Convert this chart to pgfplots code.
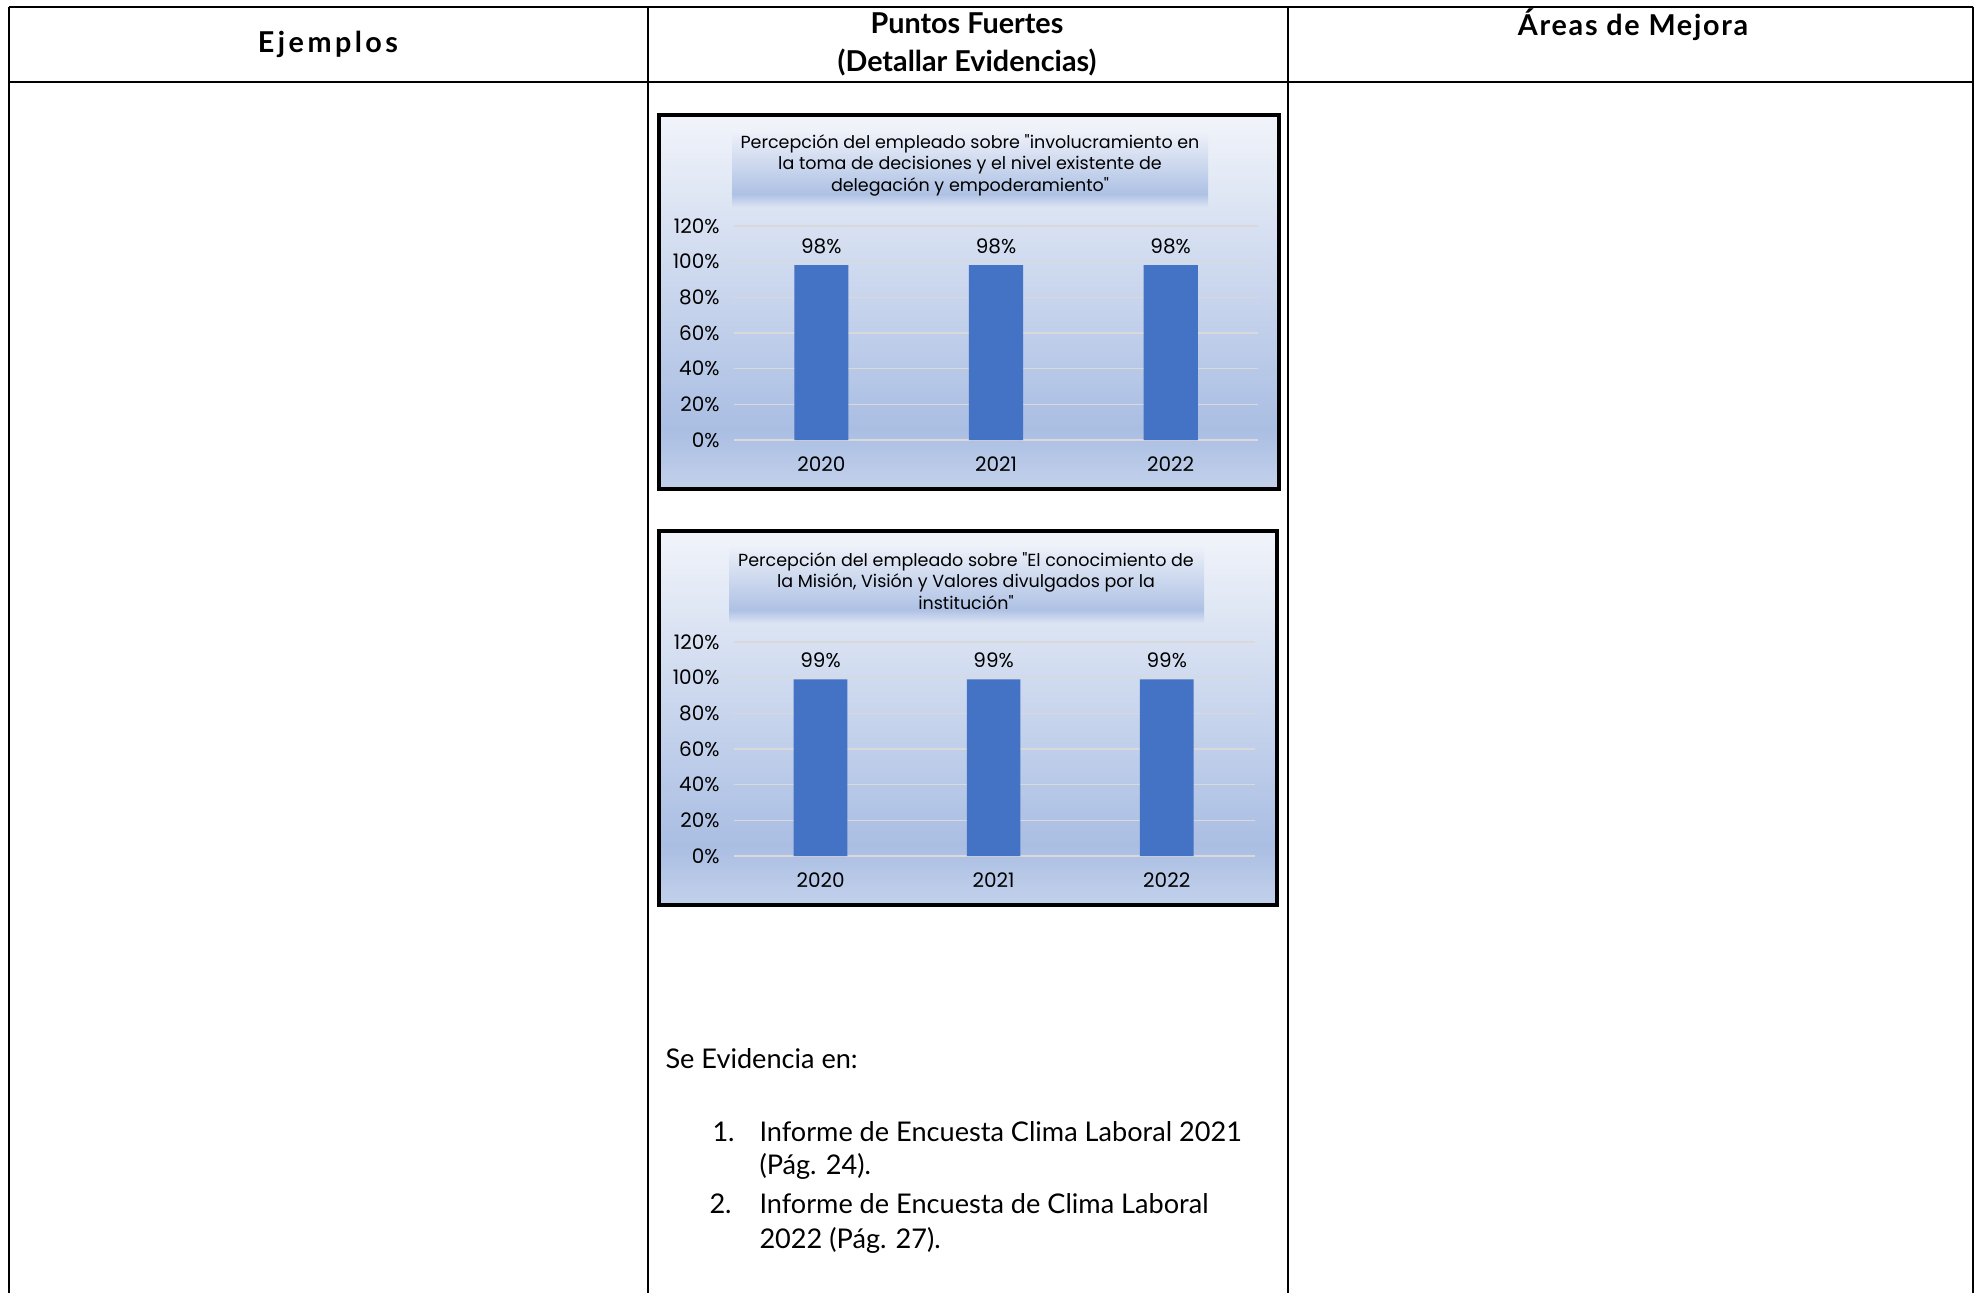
\documentclass[border=0pt]{standalone}
\usepackage{pgfplots}
\pgfplotsset{compat=1.18}
\usepackage{fontspec}
\setmainfont{Lato}
\newfontfamily\chartfont{Poppins}

\definecolor{barblue}{HTML}{4472C4}
\definecolor{gridgray}{HTML}{D9D9D9}
\definecolor{bgtop}{HTML}{F1F4FA}
\definecolor{bgmid}{HTML}{AABEE3}
\definecolor{bgbot}{HTML}{C3D1EB}
\definecolor{ttop}{HTML}{EDF1F9}
\definecolor{tmid}{HTML}{AEC1E4}
\definecolor{tbot}{HTML}{D8E1F2}

% 25bp = bottom of the path, 75bp = top
\pgfdeclareverticalshading{chartbg}{100bp}{color(0bp)=(bgbot); color(25bp)=(bgbot); color(33bp)=(bgmid); color(75bp)=(bgtop); color(100bp)=(bgtop)}
\pgfdeclareverticalshading{titlebg}{100bp}{color(0bp)=(tbot); color(25bp)=(tbot); color(33bp)=(tmid); color(75bp)=(ttop); color(100bp)=(ttop)}

\newcommand{\cfont}{\chartfont\fontsize{7}{8.6}\selectfont}
\newcommand{\tfont}{\chartfont\fontsize{8}{9}\selectfont}
\newcommand{\hfont}{\bfseries\fontsize{11.5}{15.2}\selectfont}

\pgfplotsset{
  chartstyle/.style={
    scale only axis, width=209.6pt, height=85.6pt, anchor=south west,
    ybar, bar width=0.31, xmin=-0.5, xmax=2.5, ymin=0, ymax=120,
    xtick={0,1,2}, xticklabels={2020,2021,2022},
    ytick={0,20,...,120},
    yticklabel={\pgfmathprintnumber{\tick}\%},
    /pgf/number format/assume math mode=true,
    axis line style={draw=none}, major tick length=0pt,
    ymajorgrids, grid style={line width=0.6pt, color=gridgray},
    tick label style={font=\tfont, text=black},
    xticklabel style={anchor=center, yshift=-9.6pt},
    yticklabel style={anchor=east, inner sep=0pt, xshift=-5.6pt},
    nodes near coords={\pgfmathprintnumber{\pgfplotspointmeta}\%},
    nodes near coords style={font=\tfont, text=black, anchor=center, yshift=7.6pt,
      /pgf/number format/assume math mode=true},
    clip=false,
  },
}

\begin{document}
\begin{tikzpicture}[x=0.4pt, y=-0.4pt]
\useasboundingbox (0,0) rectangle (1977,1292);

% table
\draw[line width=0.8pt] (8.7,6.7) -- (1973,6.7);
\draw[line width=0.8pt] (8.7,82) -- (1973,82);
\foreach \xx in {8.7,648,1288,1973}
  \draw[line width=0.8pt] (\xx,6.7) -- (\xx,1300);

% header
\node[font=\hfont] at (328,44) {\addfontfeature{LetterSpace=12}Ejemplos};
\node[font=\hfont, align=center] at (967,44) {Puntos Fuertes\\(Detallar Evidencias)};
\node[font=\hfont] at (1633,25) {\addfontfeature{LetterSpace=6}Áreas de Mejora};

% anchor points of the two plot areas
\coordinate (o1) at (734,440);
\coordinate (o2) at (734,856);

% chart 1
\shade[shading=chartbg, draw=black, line width=1.6pt] (659,115) rectangle (1279,489);
\shade[shading=titlebg] (732,132) rectangle (1208,206);
\node[font=\cfont, align=center] at (970,165)
  {Percepción del empleado sobre "involucramiento en\\la toma de decisiones y el nivel existente de\\delegación y empoderamiento"};
\begin{axis}[chartstyle, at={(o1)}]
\addplot[fill=barblue, draw=none] coordinates {(0,98) (1,98) (2,98)};
\end{axis}

% chart 2
\shade[shading=chartbg, draw=black, line width=1.6pt] (659,531) rectangle (1277,905);
\shade[shading=titlebg] (729,546) rectangle (1204,622);
\node[font=\cfont, align=center] at (966,581)
  {Percepción del empleado sobre "El conocimiento de\\la Misión, Visión y Valores divulgados por la\\institución"};
\begin{axis}[chartstyle, at={(o2)}, width=208.4pt, xmax=2.51]
\addplot[fill=barblue, draw=none] coordinates {(0,99) (1,99) (2,99)};
\end{axis}

% evidence text
\begin{scope}[every node/.style={font=\fontsize{10.85}{14}\selectfont, inner sep=0pt}]
\node[anchor=west] at (665,1059) {Se Evidencia en:};
\node[anchor=west] at (712,1132) {1.};
\node[anchor=west] at (759,1132) {Informe de Encuesta Clima Laboral 2021};
\node[anchor=west] at (759,1166) {(Pág. 24).};
\node[anchor=west] at (709,1204) {2.};
\node[anchor=west] at (759,1204) {Informe de Encuesta de Clima Laboral};
\node[anchor=west] at (759,1240) {2022 (Pág. 27).};
\end{scope}
\end{tikzpicture}
\end{document}
